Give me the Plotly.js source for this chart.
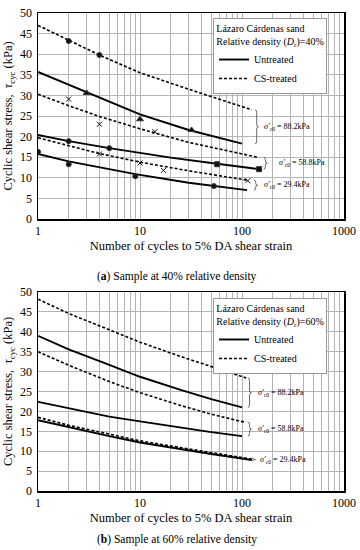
<!DOCTYPE html>
<html><head><meta charset="utf-8">
<script src="https://cdn.plot.ly/plotly-3.0.1.min.js"></script>
<style>body{margin:0;background:#fff}#chart{width:360px;height:550px}</style>
</head><body><div id="chart"></div>
<script>
// ===== (a) Relative density 40% =====
// lines
const a_un88_N = [1, 3, 10, 30, 100];
const a_un88_tau = [35.7, 30.7, 25.4, 21.6, 18.3];
const a_cs88_N = [1, 2, 4, 10, 30, 125];
const a_cs88_tau = [47.0, 43.3, 39.8, 35.5, 31.5, 26.5];
const a_un58_N = [1, 2, 5, 20, 57, 147];
const a_un58_tau = [20.4, 18.9, 17.2, 14.9, 13.4, 12.1];
const a_cs58_N = [1, 2, 4, 10, 30, 141];
const a_cs58_tau = [30.3, 27.5, 24.9, 21.9, 18.6, 15.0];
const a_un29_N = [1, 2, 9, 30, 112];
const a_un29_tau = [15.8, 14.0, 10.9, 8.8, 7.0];
const a_cs29_N = [1, 4, 10, 30, 114];
const a_cs29_tau = [19.7, 15.9, 13.8, 11.7, 9.4];
// test points
const a_pt_cs88_N = [2, 4];
const a_pt_cs88_tau = [43.2, 39.8];
const a_pt_un88_N = [3, 10, 32];
const a_pt_un88_tau = [30.6, 24.2, 21.6];
const a_pt_cs58_N = [2, 4, 14];
const a_pt_cs58_tau = [29.1, 23.0, 21.2];
const a_pt_un58c_N = [2, 5];
const a_pt_un58c_tau = [18.9, 17.2];
const a_pt_un58s_N = [57, 147];
const a_pt_un58s_tau = [13.3, 12.1];
const a_pt_cs29_N = [4, 10, 17, 114];
const a_pt_cs29_tau = [15.8, 13.6, 11.8, 9.3];
const a_pt_un29_N = [1, 2, 9, 53];
const a_pt_un29_tau = [16.3, 13.3, 10.4, 8.0];

// ===== (b) Relative density 60% =====
const b_un88_N = [1, 2, 5, 10, 25, 50, 100];
const b_un88_tau = [39.0, 35.6, 31.7, 28.7, 25.4, 23.1, 21.0];
const b_cs88_N = [1, 2, 5, 10, 25, 50, 110];
const b_cs88_tau = [48.2, 44.6, 40.5, 37.4, 33.8, 31.3, 28.4];
const b_un58_N = [1, 2, 5, 10, 25, 50, 100];
const b_un58_tau = [22.4, 20.8, 18.7, 17.5, 15.9, 14.8, 13.8];
const b_cs58_N = [1, 2, 5, 10, 25, 50, 105];
const b_cs58_tau = [35.0, 31.6, 27.5, 24.7, 21.5, 19.3, 17.3];
const b_un29_N = [1, 2, 5, 10, 25, 50, 125];
const b_un29_tau = [17.8, 16.0, 13.8, 12.2, 10.5, 9.3, 7.8];
const b_cs29_N = [1, 2, 5, 10, 25, 50, 125];
const b_cs29_tau = [18.5, 16.5, 14.3, 12.6, 10.9, 9.6, 8.0];

// confining stress labels / braces
const confLabels = ['88.2kPa', '58.8kPa', '29.4kPa'];
const a_braceN = [134, 163, 131];
const a_braceTop = [26.5, 15.0, 9.4];
const a_braceBot = [18.3, 12.1, 7.0];
const a_labelN = [157, 220, 157];
const b_braceN = [114, 114, 125];
const b_braceTop = [28.4, 17.3, 8.2];
const b_braceBot = [21.0, 13.8, 7.6];
const b_labelN = [136, 136, 142];

const xTickVals = [1, 10, 100, 1000];
const xTickText = ['1', '10', '100', '1000'];
const legendTitles = ['Lázaro Cárdenas sand<br>Relative density (<i>D</i><sub>r</sub>)=40%',
                      'Lázaro Cárdenas sand<br>Relative density (<i>D</i><sub>r</sub>)=60%'];
const captions = ['(<b>a</b>) Sample at 40% relative density', '(<b>b</b>) Sample at 60% relative density'];

const FONT = 'Liberation Serif, Times New Roman, serif';
const DASH = '3px,2px';
const traces = [];
function line(xs, ys, dash, xa, ya, name, show, leg) {
  traces.push({x: xs, y: ys, type: 'scatter', mode: 'lines', xaxis: xa, yaxis: ya,
    line: {color: '#000', width: dash ? 1.6 : 1.9, dash: dash ? DASH : 'solid'},
    name: name, showlegend: show, legend: leg, hoverinfo: 'skip'});
}
function pts(xs, ys, sym, size) {
  traces.push({x: xs, y: ys, type: 'scatter', mode: 'markers', xaxis: 'x', yaxis: 'y',
    marker: {symbol: sym, size: size, color: '#111', line: {color: '#333', width: 1}},
    showlegend: false, hoverinfo: 'skip'});
}
line(a_un88_N, a_un88_tau, false, 'x', 'y', 'Untreated', true, 'legend');
line(a_cs88_N, a_cs88_tau, true, 'x', 'y', 'CS-treated', true, 'legend');
line(a_un58_N, a_un58_tau, false, 'x', 'y', 'Untreated', false, 'legend');
line(a_cs58_N, a_cs58_tau, true, 'x', 'y', 'CS-treated', false, 'legend');
line(a_un29_N, a_un29_tau, false, 'x', 'y', 'Untreated', false, 'legend');
line(a_cs29_N, a_cs29_tau, true, 'x', 'y', 'CS-treated', false, 'legend');
pts(a_pt_cs88_N, a_pt_cs88_tau, 'circle', 5);
pts(a_pt_un88_N, a_pt_un88_tau, 'triangle-up', 6);
pts(a_pt_cs58_N, a_pt_cs58_tau, 'x-thin-open', 5);
pts(a_pt_un58c_N, a_pt_un58c_tau, 'circle', 5);
pts(a_pt_un58s_N, a_pt_un58s_tau, 'square', 5);
pts(a_pt_cs29_N, a_pt_cs29_tau, 'x-thin-open', 5);
pts(a_pt_un29_N, a_pt_un29_tau, 'circle', 5);
line(b_un88_N, b_un88_tau, false, 'x2', 'y2', 'Untreated', true, 'legend2');
line(b_cs88_N, b_cs88_tau, true, 'x2', 'y2', 'CS-treated', true, 'legend2');
line(b_un58_N, b_un58_tau, false, 'x2', 'y2', 'Untreated', false, 'legend2');
line(b_cs58_N, b_cs58_tau, true, 'x2', 'y2', 'CS-treated', false, 'legend2');
line(b_un29_N, b_un29_tau, false, 'x2', 'y2', 'Untreated', false, 'legend2');
line(b_cs29_N, b_cs29_tau, true, 'x2', 'y2', 'CS-treated', false, 'legend2');

function bracePath(N, yt, yb) {
  const x0 = N, x1 = N * 1.04, x2 = N * 1.085;
  const ym = (yt + yb) / 2, d = Math.min(0.6, (yt - yb) / 5);
  return `M${x0},${yt} Q${x1},${yt} ${x1},${yt - d} L${x1},${ym + d} Q${x1},${ym} ${x2},${ym} ` +
         `Q${x1},${ym} ${x1},${ym - d} L${x1},${yb + d} Q${x1},${yb} ${x0},${yb}`;
}
const shapes = [], annotations = [];
function braces(xa, ya, bN, bt, bb, lN) {
  for (let i = 0; i < bN.length; i++) {
    shapes.push({type: 'path', xref: xa, yref: ya, path: bracePath(bN[i], bt[i], bb[i]),
      line: {color: '#444', width: 0.8}});
    annotations.push({xref: xa, yref: ya, x: Math.log10(lN[i]), y: (bt[i] + bb[i]) / 2,
      xanchor: 'left', yanchor: 'middle', showarrow: false,
      text: '<i>σ′</i><sub>c0</sub> = ' + confLabels[i], font: {family: FONT, size: 8, color: '#000'}});
  }
}
braces('x', 'y', a_braceN, a_braceTop, a_braceBot, a_labelN);
braces('x2', 'y2', b_braceN, b_braceTop, b_braceBot, b_labelN);
annotations.push({xref: 'paper', yref: 'paper', x: 0.454, y: 0.4477, xanchor: 'center', yanchor: 'middle',
  showarrow: false, text: captions[0], font: {family: FONT, size: 11.5, color: '#000'}});
annotations.push({xref: 'paper', yref: 'paper', x: 0.454, y: -0.1025, xanchor: 'center', yanchor: 'middle',
  showarrow: false, text: captions[1], font: {family: FONT, size: 11.5, color: '#000'}});

const GRID = '#b4b4b4';
function xax(anchor) {
  return {type: 'log', range: [0, 3], anchor: anchor, tickvals: xTickVals, ticktext: xTickText,
    ticks: '', showgrid: true, gridcolor: GRID, gridwidth: 1,
    minor: {dtick: 'D1', showgrid: true, gridcolor: GRID, gridwidth: 1, ticks: ''},
    showline: true, mirror: true, linecolor: '#000', linewidth: 1.5, zeroline: false,
    tickfont: {family: FONT, size: 12, color: '#000'},
    title: {text: 'Number of cycles to 5% DA shear strain', font: {family: FONT, size: 12.5, color: '#000'}, standoff: 4}};
}
function yax(anchor, dom) {
  return {range: [0, 50], dtick: 5, anchor: anchor, domain: dom, ticks: '', showgrid: true,
    gridcolor: GRID, gridwidth: 1, showline: true, mirror: true, linecolor: '#000', linewidth: 1.5,
    zeroline: false, tickfont: {family: FONT, size: 12, color: '#000'}, ticklabelstandoff: 2,
    title: {text: 'Cyclic shear stress,  <i>τ</i><sub>cyc</sub> (kPa)', font: {family: FONT, size: 12.5, color: '#000'}, standoff: 4}};
}
function leg(x, y, title) {
  return {x: x, y: y, xanchor: 'left', yanchor: 'top', bgcolor: '#fff', bordercolor: '#999', borderwidth: 1,
    font: {family: FONT, size: 10, color: '#000'}, tracegroupgap: 0, itemwidth: 30,
    title: {text: title, side: 'top center', font: {family: FONT, size: 10, color: '#000'}}};
}
const layout = {
  width: 360, height: 550, margin: {l: 38, r: 16, t: 13, b: 59},
  paper_bgcolor: '#fff', plot_bgcolor: '#fff',
  xaxis: xax('y'), yaxis: yax('x', [0.569, 1]),
  xaxis2: xax('y2'), yaxis2: yax('x2', [0, 0.4163]),
  legend: leg(0.572, 0.9895, legendTitles[0]),
  legend2: leg(0.572, 0.4038, legendTitles[1]),
  shapes: shapes, annotations: annotations, showlegend: true
};
Plotly.newPlot('chart', traces, layout, {staticPlot: true, displayModeBar: false});
</script></body></html>
